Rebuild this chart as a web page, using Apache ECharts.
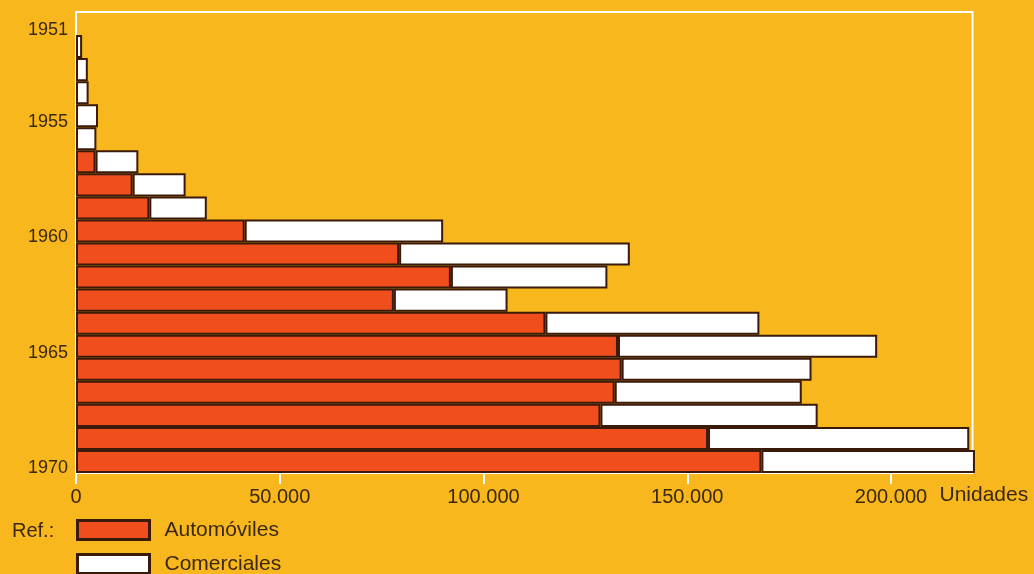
<!DOCTYPE html>
<html>
<head>
<meta charset="utf-8">
<script src="https://cdn.jsdelivr.net/npm/echarts@6/dist/echarts.min.js"></script>
<style>
html,body{margin:0;padding:0;background:#F8B71C;}
#c{width:1034px;height:574px;}
</style>
</head>
<body>
<div id="c"></div>
<script>
const years = ['1951','1952','1953','1954','1955','1956','1957','1958','1959','1960','1961','1962','1963','1964','1965','1966','1967','1968','1969','1970'];
const automoviles = [null,null,null,null,null,null,4800,13900,18000,41400,79300,92000,78000,115200,133000,133900,132200,128700,155100,168200];
const comerciales = [null,1500,2900,3100,5400,5000,10500,13000,14100,48700,56600,38400,27900,52500,63600,46600,45900,53300,64100,52400];
const yearLabels = ['1951','1955','1960','1965','1970'];
const xTicks = [0,50000,100000,150000,200000];

const dark = '#3a1a0a';
const txt = '#3b2810';
const font = 'Liberation Sans';

const legendBase = {
  orient: 'vertical', left: 76, padding: 0,
  itemWidth: 72, itemHeight: 19,
  icon: 'rect',
  itemStyle: {borderWidth: 3, borderColor: dark},
  textStyle: {fontFamily: font, fontSize: 21, lineHeight: 19, color: txt, padding: [2,0,0,10]}
};

const chart = echarts.init(document.getElementById('c'));
chart.setOption({
  backgroundColor: '#F8B71C',
  animation: false,
  title: {
    text: 'Ref.:', left: 12, top: 521, padding: 0,
    textStyle: {fontFamily: font, fontSize: 20, fontWeight: 'normal', color: txt}
  },
  legend: [
    Object.assign({}, legendBase, {top: 519, data: ['Automóviles']}),
    Object.assign({}, legendBase, {top: 553, data: ['Comerciales']})
  ],
  grid: {
    left: 76, top: 12, right: 61.5, bottom: 101,
    show: true, borderColor: '#ffffff', borderWidth: 2, backgroundColor: 'transparent',
    containLabel: false
  },
  xAxis: {
    type: 'value', min: 0, max: 220000,
    splitLine: {show: false},
    axisLine: {show: false},
    axisTick: {show: true, length: 11, lineStyle: {color: '#ffffff', width: 2}, customValues: xTicks},
    axisLabel: {
      customValues: xTicks, margin: 14,
      fontFamily: font, fontSize: 20, color: txt,
      formatter: v => v === 0 ? '0' : String(v).replace(/\B(?=(\d{3})+(?!\d))/g, '.')
    },
    name: 'Unidades', nameLocation: 'end', nameGap: -33,
    nameTextStyle: {fontFamily: font, fontSize: 21, color: txt, align: 'left', verticalAlign: 'top', padding: [12,0,0,0]}
  },
  yAxis: {
    type: 'category', data: years, inverse: true,
    axisLine: {show: false}, axisTick: {show: false}, splitLine: {show: false},
    axisLabel: {
      interval: (i, v) => yearLabels.includes(v),
      margin: 8, fontFamily: font, fontSize: 18, color: txt,
      verticalAlign: 'top', lineHeight: 13
    }
  },
  series: [
    {
      name: 'Automóviles', type: 'bar', stack: 'tot', data: automoviles,
      barCategoryGap: 0, clip: false,
      itemStyle: {color: '#F04E1C', borderColor: dark, borderWidth: 2}
    },
    {
      name: 'Comerciales', type: 'bar', stack: 'tot', data: comerciales,
      barCategoryGap: 0, clip: false,
      itemStyle: {color: '#ffffff', borderColor: dark, borderWidth: 2}
    }
  ]
});
</script>
</body>
</html>
